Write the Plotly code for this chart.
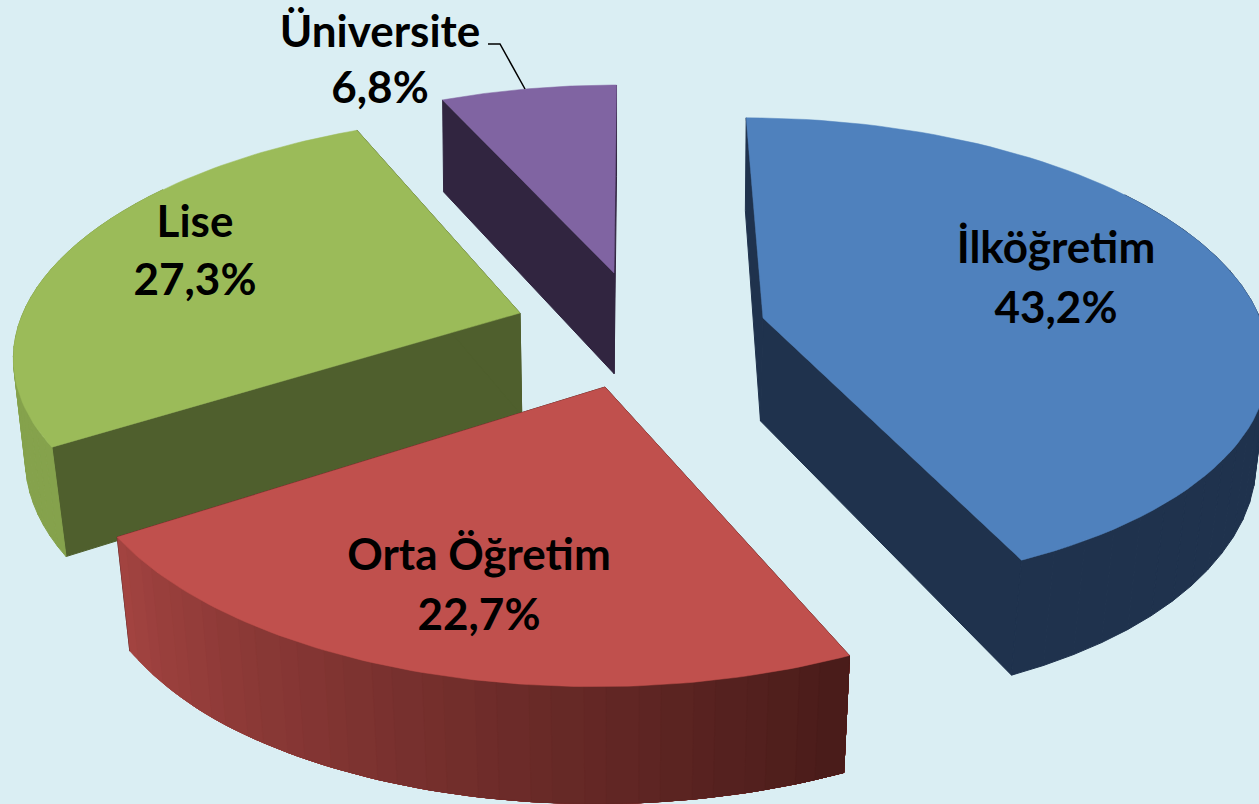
import math
import plotly.graph_objects as go

categories = ["İlköğretim", "Orta Öğretim", "Lise", "Üniversite"]
values = [43.2, 22.7, 27.3, 6.8]

top_colors = ["#4F81BD", "#C0504D", "#9BBB59", "#8064A2"]
face_colors = ["#1F324D", "#4D1F1D", "#4F5F2D", "#312540"]
rim_from = [(0x1F, 0x32, 0x4D), (0xA2, 0x43, 0x40), (0x85, 0xA2, 0x4C), (0x31, 0x25, 0x40)]
rim_to = [(0x1F, 0x32, 0x4D), (0x4A, 0x1C, 0x1A), (0x85, 0xA2, 0x4C), (0x31, 0x25, 0x40)]

# per-slice projection: apex x, apex y, half-width, half-depth, skew
apex = [(763, 318), (605, 387), (520, 313), (614, 273)]
radius_x = [497, 528, 497, 476]
radius_y = [230, 255, 228, 216]
skew = [2, 6, 8, 2]
persp = 0.149
vanish_x = 620
draw_order = [3, 2, 0, 1]

label_pos = [(1056, 252), (479, 559), (195, 226), (380, 36)]
value_pos = [(1056, 312), (479, 619), (195, 284), (380, 92)]


def project(i, theta):
    X, Y = math.sin(theta), math.cos(theta)
    s = 1 / (1 + persp * Y)
    return (vanish_x + (apex[i][0] - vanish_x + radius_x[i] * X + skew[i] * Y) * s,
            apex[i][1] - radius_y[i] * Y * s)


def drop(p):
    x, y = p
    squeeze = 0.025 * min(y / 450, 1)
    return x + (vanish_x - x) * squeeze, y + min(87 + 0.05 * y, 117)


def poly(pts, color, width=0.5):
    xs = [p[0] for p in pts] + [pts[0][0]]
    ys = [p[1] for p in pts] + [pts[0][1]]
    return go.Scatter(x=xs, y=ys, mode="lines", fill="toself", fillcolor=color,
                      line=dict(color=color, width=width), hoverinfo="skip", showlegend=False)


fig = go.Figure()
total = sum(values)
starts, cum = [], 0.0
for v in values:
    starts.append(cum / total * 2 * math.pi)
    cum += v

for i in draw_order:
    t0 = starts[i]
    t1 = t0 + values[i] / total * 2 * math.pi
    n = 80
    ths = [t0 + (t1 - t0) * k / n for k in range(n + 1)]
    rim = [project(i, t) for t in ths]
    c = apex[i]
    for edge in (rim[0], rim[-1]):
        fig.add_trace(poly([c, edge, drop(edge), drop(c)], face_colors[i], 1))
    front = [k for k in range(n + 1) if math.cos(ths[k]) < 0.6]
    if rim_from[i] == rim_to[i]:
        # swept wall: overlapping quads, so the silhouette follows the tangent edge
        for a, b in zip(front[::2], front[2::2]):
            color = "rgb(%d,%d,%d)" % rim_from[i]
            mid = rim[(a + b) // 2]
            fig.add_trace(poly([rim[a], mid, rim[b], drop(rim[b]), drop(mid), drop(rim[a])], color, 1))
    else:
        # shaded strips, painted from the dark end so each overlaps the next
        bands = 32
        xs_sorted = sorted(front, key=lambda k: rim[k][0])
        for b in range(bands):
            f = b / (bands - 1)
            col = tuple(round(rim_from[i][j] + (rim_to[i][j] - rim_from[i][j]) * f) for j in range(3))
            upto = sorted(xs_sorted[int(b / bands * (len(xs_sorted) - 1)):])
            pts = [rim[k] for k in upto] + [drop(rim[k]) for k in reversed(upto)]
            if len(upto) > 1:
                fig.add_trace(poly(pts, "rgb(%d,%d,%d)" % col))
    fig.add_trace(poly([c] + rim, top_colors[i]))

fig.add_trace(go.Scatter(x=[488, 500, 525], y=[44, 44, 89], mode="lines",
                         line=dict(color="#000000", width=1.5), hoverinfo="skip", showlegend=False))

font = dict(family="Lato", size=44, color="#000000", weight="bold")
fig.add_trace(go.Scatter(x=[p[0] for p in label_pos], y=[p[1] for p in label_pos],
                         mode="text", text=categories, textposition="middle center",
                         textfont=font, hoverinfo="skip", showlegend=False))
fig.add_trace(go.Scatter(x=[p[0] for p in value_pos], y=[p[1] for p in value_pos],
                         mode="text", text=[f"{v:.1f}%".replace(".", ",") for v in values],
                         textposition="middle center",
                         textfont=font, hoverinfo="skip", showlegend=False))

fig.update_layout(width=1259, height=804, margin=dict(l=0, r=0, t=0, b=0),
                  paper_bgcolor="#DAEEF3", plot_bgcolor="#DAEEF3",
                  xaxis=dict(range=[0, 1259], visible=False, fixedrange=True),
                  yaxis=dict(range=[804, 0], visible=False, fixedrange=True),
                  showlegend=False)
fig.write_html("out.html", config={"displayModeBar": False},
               post_script="document.body.style.margin='0';document.body.style.overflow='hidden';document.body.style.background='#DAEEF3';")
